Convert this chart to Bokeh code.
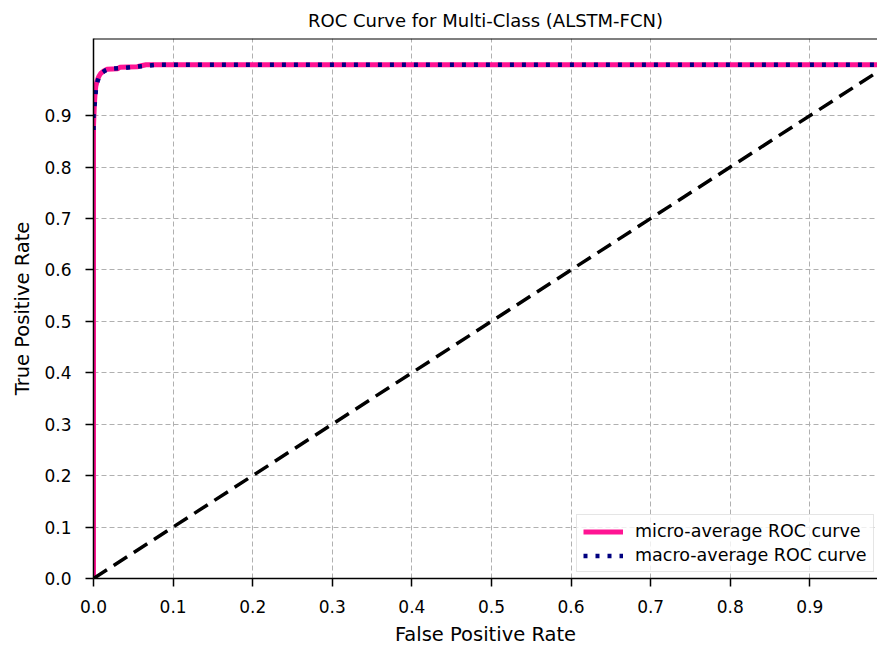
from bokeh.plotting import figure
from bokeh.models import Range1d, FixedTicker, PrintfTickFormatter, Legend, LegendItem, Span
from bokeh.embed import file_html
from bokeh.resources import INLINE

# ---- data ----
micro_fpr = [0.0, 0.0, 0.001, 0.002, 0.003, 0.005, 0.007, 0.009, 0.013, 0.017, 0.030, 0.033, 0.055, 0.060, 0.066, 1.0]
micro_tpr = [0.0, 0.880, 0.920, 0.945, 0.958, 0.970, 0.977, 0.982, 0.987, 0.990, 0.991, 0.994, 0.995, 0.997, 0.999, 0.999]

macro_fpr = [0.0, 0.0, 0.002, 0.003, 0.005, 0.007, 0.010, 0.015, 0.020, 0.040, 0.060, 0.080, 1.0]
macro_tpr = [0.872, 0.900, 0.930, 0.950, 0.966, 0.976, 0.983, 0.988, 0.991, 0.993, 0.996, 0.999, 0.999]

diag_x = [0.0, 1.0]
diag_y = [0.0, 1.0]

x_ticks = [0.0, 0.1, 0.2, 0.3, 0.4, 0.5, 0.6, 0.7, 0.8, 0.9]
x_tick_labels = ["0.0", "0.1", "0.2", "0.3", "0.4", "0.5", "0.6", "0.7", "0.8", "0.9"]
y_ticks = [0.0, 0.1, 0.2, 0.3, 0.4, 0.5, 0.6, 0.7, 0.8, 0.9]
y_tick_labels = ["0.0", "0.1", "0.2", "0.3", "0.4", "0.5", "0.6", "0.7", "0.8", "0.9"]

title_text = "ROC Curve for Multi-Class (ALSTM-FCN)"
x_label = "False Positive Rate"
y_label = "True Positive Rate"
micro_label = "micro-average ROC curve"
macro_label = "macro-average ROC curve"

FONT = "DejaVu Sans"
Y_MAX = 1.05

p = figure(width=877, height=650, output_backend="svg", toolbar_location=None,
           x_range=Range1d(0.0, 0.985), y_range=Range1d(0.0, Y_MAX),
           min_border_left=93, min_border_right=0, min_border_top=38, min_border_bottom=72)

p.title.text = title_text
p.title.align = "center"
p.title.text_font = FONT
p.title.text_font_size = "18px"
p.title.text_font_style = "normal"
p.title.text_color = "#000000"
p.title.text_line_height = 0.8
p.title.standoff = 15

# only left, bottom and top spines are visible (right one is cut off in the reference)
p.outline_line_color = None

for ax, ticks, labels, lbl in ((p.xaxis[0], x_ticks, x_tick_labels, x_label),
                                (p.yaxis[0], y_ticks, y_tick_labels, y_label)):
    ax.ticker = FixedTicker(ticks=ticks)
    ax.formatter = PrintfTickFormatter(format="%.1f")
    ax.major_label_overrides = {t: s for t, s in zip(ticks, labels)}
    ax.axis_label = lbl
    ax.axis_label_text_font = FONT
    ax.axis_label_text_font_size = "19.5px"
    ax.axis_label_text_font_style = "normal"
    ax.axis_label_text_color = "#000000"
    ax.major_label_text_font = FONT
    ax.major_label_text_font_size = "17px"
    ax.major_label_text_color = "#000000"
    ax.major_tick_out = 8
    ax.major_tick_in = 0
    ax.minor_tick_out = 0
    ax.minor_tick_in = 0
    ax.major_tick_line_color = "#000000"
    ax.major_tick_line_width = 1.5
    ax.axis_line_color = "#000000"
    ax.axis_line_width = 1.5

p.xaxis.major_label_standoff = 13
p.xaxis.axis_label_standoff = 7
p.yaxis.major_label_standoff = 14
p.yaxis.axis_label_standoff = 7

for g in (p.xgrid[0], p.ygrid[0]):
    g.grid_line_color = "#b0b0b0"
    g.grid_line_width = 1
    g.grid_line_dash = "5 3"
p.xgrid.ticker = FixedTicker(ticks=x_ticks)
p.ygrid.ticker = FixedTicker(ticks=y_ticks)

r_micro = p.line(micro_fpr, micro_tpr, line_color="#ff1493", line_width=5)
r_macro = p.line(macro_fpr, macro_tpr, line_color="#000080", line_width=4.5,
                 line_dash="4 8", line_cap="butt")
p.line(diag_x, diag_y, line_color="#000000", line_width=3.5, line_dash="16 8")

# top spine
p.add_layout(Span(location=Y_MAX, dimension="width", line_color="#000000", line_width=2))

legend = Legend(items=[LegendItem(label=micro_label, renderers=[r_micro]),
                       LegendItem(label=macro_label, renderers=[r_macro])],
                location=(483, 6))
legend.label_text_font = FONT
legend.label_text_font_size = "17.5px"
legend.label_text_color = "#000000"
legend.glyph_width = 40
legend.glyph_height = 19
legend.label_height = 19
legend.label_standoff = 12
legend.padding = 6
legend.spacing = 4
legend.margin = 0
legend.border_line_color = "#cccccc"
legend.border_line_width = 1
legend.background_fill_color = "#ffffff"
legend.background_fill_alpha = 0.8
p.add_layout(legend, "center")

open("out.html", "w").write(file_html(p, INLINE))
